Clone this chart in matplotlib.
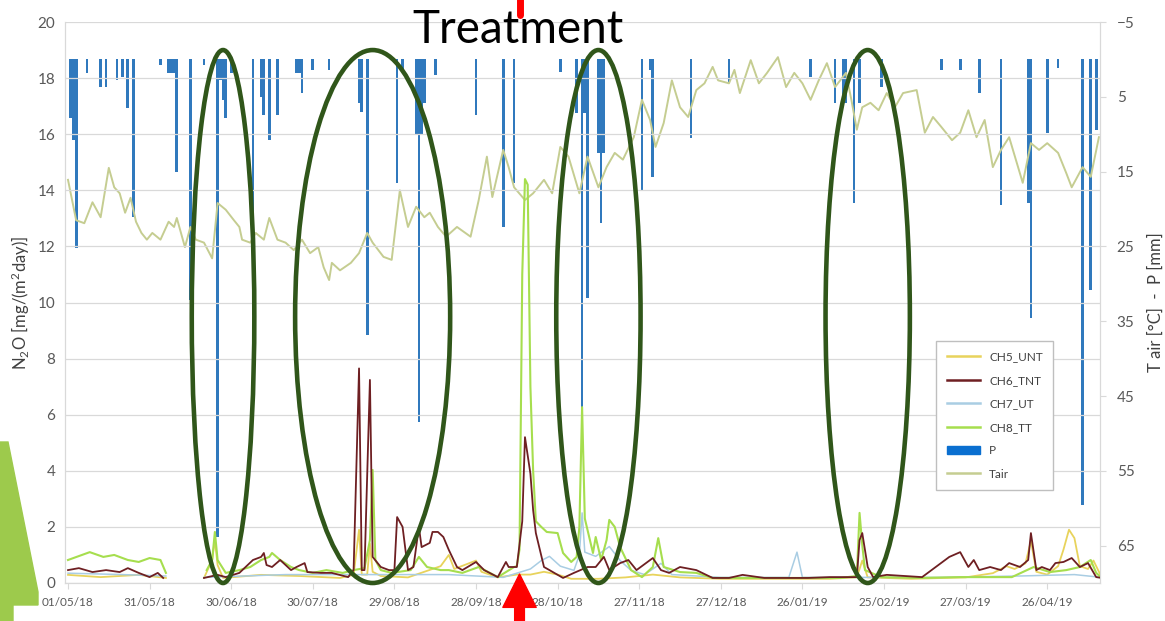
import numpy as np
import matplotlib
matplotlib.use("Agg")
import matplotlib.pyplot as plt
import matplotlib.dates as mdates
import matplotlib.transforms as mtransforms
from matplotlib.patches import Ellipse, Polygon, Patch
from matplotlib.lines import Line2D

plt.rcParams["font.family"] = ["Lato", "DejaVu Sans"]
plt.rcParams["mathtext.fontset"] = "custom"
plt.rcParams["mathtext.rm"] = "Lato"
plt.rcParams["mathtext.it"] = "Lato:italic"

START = np.datetime64("2018-05-01")
TREATMENT_DAY = 166

# air temperature [°C], day offset from 01/05/18
tair_day = [0, 3, 6, 9, 12, 15, 17, 19, 21, 23, 25, 27, 29, 31, 34, 37, 39, 40, 43, 45,
            47, 50, 53, 55, 58, 61, 63, 64, 67, 69, 72, 74, 77, 80, 83, 86, 89, 92, 94, 96,
            97, 100, 104, 107, 110, 112, 116, 119, 122, 125, 128, 131, 133, 136, 139, 143,
            148, 151, 154, 156, 160, 162, 164, 168, 171, 175, 178, 181, 184, 188, 191, 195,
            198, 201, 204, 208, 211, 214, 216, 219, 222, 225, 228, 231, 234, 237, 239, 243,
            245, 247, 251, 254, 257, 261, 264, 267, 270, 273, 276, 279, 282, 286, 288, 290,
            292, 295, 298, 301, 304, 307, 312, 315, 318, 321, 325, 328, 331, 334, 337, 340,
            343, 346, 351, 354, 357, 360, 364, 367, 369, 373, 376, 379]
tair = [16.1, 21.5, 21.9, 19.1, 21.1, 14.5, 17.1, 17.9, 20.5, 18.5, 21.7, 23.2, 24.1, 23.2,
        24.1, 21.7, 22.4, 21.2, 25.1, 22.4, 24.1, 24.5, 26.6, 19.2, 20.1, 21.5, 22.4, 24.1,
        24.5, 23.2, 24.1, 21.2, 24.1, 24.5, 25.5, 24.1, 25.9, 25.1, 27.8, 29.5, 27.2, 28.2,
        27.2, 25.9, 23.2, 24.5, 26.4, 26.8, 17.5, 22.4, 19.7, 21.1, 20.5, 22.4, 23.7, 22.4,
        23.7, 18.8, 13.0, 18.4, 12.1, 14.4, 17.1, 18.8, 17.9, 16.1, 17.9, 11.7, 13.0, 17.9,
        13.0, 17.1, 14.4, 12.5, 13.4, 10.4, 5.4, 8.1, 11.7, 8.5, 2.8, 6.4, 7.7, 4.1, 3.2,
        1.0, 2.8, 3.2, 1.4, 4.5, 0.1, 3.2, 1.8, -0.3, 3.7, 1.8, 3.2, 5.4, 2.8, 0.5, 3.7,
        1.8, 5.4, 9.4, 6.4, 5.8, 6.8, 4.5, 6.4, 4.5, 4.1, 9.8, 7.7, 9.0, 10.8, 9.8, 6.8,
        10.4, 8.1, 14.4, 12.1, 10.4, 16.5, 11.2, 12.1, 11.2, 12.5, 15.2, 17.1, 14.4, 15.7,
        10.4]

# precipitation [mm]
p_day = [1, 2, 3, 7, 12, 14, 18, 20, 22, 24, 34, 37, 38, 39, 40, 45, 50, 55, 56, 57,
         58, 60, 68, 71, 72, 74, 77, 84, 85, 86, 90, 96, 107, 108, 110, 121, 123, 128,
         129, 130, 131, 135, 150, 160, 164, 181, 187, 189, 190, 191, 195, 196, 197, 211,
         214, 215, 229, 243, 273, 282, 285, 286, 289, 291, 299, 321, 328, 335, 343, 353,
         354, 360, 364, 373, 376, 378]
p_mm = [7.8, 10.8, 25.2, 1.8, 3.7, 3.7, 2.8, 2.4, 6.5, 21.1, 0.7, 1.8, 1.8, 1.8, 15.1,
        32.2, 0.7, 63.8, 2.8, 5.4, 7.8, 1.8, 34.2, 5.0, 7.4, 10.8, 7.4, 1.8, 1.8, 4.5,
        1.4, 1.4, 5.8, 7.0, 36.8, 16.5, 1.4, 10.1, 48.5, 10.1, 5.8, 2.1, 7.4, 22.4, 16.5,
        1.7, 7.2, 46.6, 7.2, 31.9, 12.5, 21.9, 12.5, 17.5, 1.4, 15.7, 10.5, 3.2, 2.4, 5.8,
        5.8, 5.8, 19.2, 5.8, 3.7, 1.4, 1.4, 4.5, 19.5, 19.2, 34.6, 9.8, 1.1, 59.6, 30.8,
        9.4]

# N2O fluxes [mg/(m2 day)], nan = no measurement
ch5_day = [0, 12, 26, 36, 43, 50, 53, 54, 55, 57, 71, 85, 100, 105, 107, 108, 110, 111,
           112, 115, 125, 137, 140, 142, 150, 152, 158, 165, 170, 175, 180, 185, 195, 205,
           215, 225, 240, 260, 280, 290, 292, 294, 310, 330, 340, 345, 348, 352, 354, 356,
           360, 364, 366, 368, 370, 372, 375, 377, 380]
ch5 = [0.29, 0.21, 0.29, 0.18, np.nan, 0.18, 0.82, 1.53, 0.64, 0.18, 0.29, 0.25, 0.18,
       0.29, 1.9, 0.3, 0.3, 1.4, 0.4, 0.25, 0.2, 0.6, 1.0, 0.5, 0.8, 0.4, 0.2, 0.3, 0.3,
       0.4, 0.3, 0.15, 0.15, 0.2, 0.3, 0.2, 0.15, 0.15, 0.15, 0.2, 0.8, 0.2, 0.15, 0.2,
       0.35, 0.6, 0.5, 0.7, 1.5, 0.4, 0.3, 0.6, 1.2, 1.9, 1.6, 0.6, 0.5, 0.8, 0.2]

ch6_day = [0, 4, 9, 14, 19, 22, 26, 30, 33, 35, 43, 50, 55, 58, 63, 68, 71, 72, 73, 75,
           78, 82, 84, 87, 88, 93, 97, 103, 105, 107, 108, 109, 111, 112, 115, 118, 120,
           121, 123, 125, 127, 129, 130, 133, 134, 136, 138, 140, 143, 145, 150, 153, 158,
           161, 162, 165, 167, 168, 170, 171, 172, 175, 177, 182, 186, 191, 194, 197, 199,
           203, 206, 209, 215, 218, 221, 225, 231, 237, 243, 248, 256, 263, 272, 280, 290,
           291, 292, 294, 296, 301, 314, 319, 324, 328, 331, 333, 335, 339, 343, 346, 350,
           353, 354, 356, 358, 361, 363, 366, 369, 372, 375, 378, 380]
ch6 = [0.46, 0.53, 0.39, 0.46, 0.39, 0.53, 0.36, 0.21, 0.36, 0.18, np.nan, 0.18, 0.29,
       0.21, 0.36, 0.82, 0.93, 1.07, 0.64, 0.57, 0.82, 0.46, 0.57, 0.71, 0.39, 0.36, 0.36,
       0.21, 0.46, 7.65, 0.46, 0.46, 7.24, 0.93, 0.57, 0.46, 0.46, 2.35, 2.0, 0.46, 0.57,
       2.0, 1.28, 1.43, 1.82, 1.82, 1.64, 1.18, 0.57, 0.46, 0.75, 0.46, 0.21, 0.75, 0.57,
       0.57, 2.2, 5.2, 3.9, 2.6, 1.78, 0.57, 0.46, 0.18, 0.36, 0.57, 0.57, 0.93, 0.46,
       0.71, 0.82, 0.46, 0.89, 0.46, 0.36, 0.57, 0.46, 0.18, 0.18, 0.29, 0.18, 0.18, 0.18,
       0.21, 0.21, 1.53, 1.78, 0.57, 0.21, 0.29, 0.21, 0.57, 0.93, 1.1, 0.57, 0.82, 0.46,
       0.57, 0.46, 0.71, 0.57, 0.82, 1.78, 0.46, 0.57, 0.46, 0.71, 0.75, 0.89, 0.57, 0.71,
       0.21, 0.18]

ch7_day = [0, 20, 36, 43, 50, 80, 110, 140, 160, 170, 174, 177, 181, 186, 188, 189, 190,
           194, 199, 203, 207, 212, 218, 222, 240, 265, 268, 270, 290, 320, 350, 370, 380]
ch7 = [0.35, 0.3, 0.25, np.nan, 0.2, 0.3, 0.3, 0.3, 0.2, 0.5, 0.8, 0.95, 0.6, 0.45, 1.0,
       2.5, 1.1, 0.95, 1.3, 0.8, 0.45, 0.3, 0.7, 0.3, 0.2, 0.2, 1.1, 0.2, 0.2, 0.2, 0.25,
       0.3, 0.2]

ch8_day = [0, 8, 13, 17, 22, 26, 30, 34, 36, 43, 51, 53, 54, 55, 58, 63, 67, 71, 74, 75,
           78, 82, 85, 90, 95, 101, 105, 109, 111, 112, 113, 115, 119, 126, 129, 132, 137,
           140, 145, 151, 158, 164, 165, 166, 167, 168, 169, 170, 171, 172, 174, 176, 180,
           182, 185, 187, 188, 189, 190, 193, 194, 196, 198, 199, 201, 203, 207, 211, 215,
           217, 219, 225, 231, 237, 254, 269, 284, 290, 291, 292, 293, 299, 313, 328, 343,
           347, 355, 361, 367, 372, 376, 378, 380]
ch8 = [0.82, 1.1, 0.93, 1.0, 0.82, 0.75, 0.89, 0.82, 0.36, np.nan, 0.46, 0.82, 1.82,
       0.82, 0.36, 0.46, 0.57, 0.82, 0.93, 1.07, 0.82, 0.57, 0.46, 0.36, 0.46, 0.36, 0.46,
       0.53, 1.53, 4.03, 0.82, 0.46, 0.36, 0.46, 0.93, 0.57, 0.46, 0.46, 0.36, 0.57, 0.21,
       0.57, 0.6, 1.2, 11.0, 14.4, 14.2, 7.0, 4.0, 2.2, 2.0, 1.82, 1.78, 1.07, 0.75, 0.93,
       2.0, 6.27, 2.3, 1.07, 1.64, 0.82, 1.53, 2.25, 2.0, 1.28, 0.46, 0.21, 0.57, 1.6,
       0.57, 0.39, 0.36, 0.18, 0.18, 0.18, 0.18, 0.25, 2.5, 1.35, 0.46, 0.21, 0.18, 0.21,
       0.21, 0.21, 0.57, 0.39, 0.46, 0.57, 0.82, 0.36, 0.18]

# highlighted periods: centre day, width in days
circle_day = [57, 112, 195, 294]
circle_width = [23, 57, 31, 31]

C_CH5 = "#e8d35c"
C_CH6 = "#6e1f22"
C_CH7 = "#a9cde3"
C_CH8 = "#a6de4e"
C_P = "#3079bd"
C_TAIR = "#c5cd91"
C_TXT = "#595959"
C_GRID = "#d9d9d9"


def to_dates(days):
    return START + np.array(days, dtype="timedelta64[D]")


fig = plt.figure(figsize=(11.65, 6.21), dpi=100)
ax = fig.add_axes([65 / 1165, 38 / 621, 1035 / 1165, 561 / 621])
ax2 = ax.twinx()

# right axis: precipitation bars and air temperature (inverted)
ax2.bar(to_dates(p_day), p_mm, width=1.0, color=C_P, zorder=2)
ax2.plot(to_dates(tair_day), tair, color=C_TAIR, lw=1.4, zorder=3)
ax2.set_ylim(70, -5)
ax2.set_yticks(np.arange(-5, 66, 10))

# left axis: N2O
ax.plot(to_dates(ch5_day), ch5, color=C_CH5, lw=1.3, zorder=3)
ax.plot(to_dates(ch7_day), ch7, color=C_CH7, lw=1.1, zorder=3)
ax.plot(to_dates(ch8_day), ch8, color=C_CH8, lw=1.5, zorder=3)
ax.plot(to_dates(ch6_day), ch6, color=C_CH6, lw=1.3, zorder=4)
ax.set_ylim(0, 20)
ax.set_yticks(np.arange(0, 21, 2))
ax.set_zorder(ax2.get_zorder() + 1)
ax.patch.set_visible(False)
ax.yaxis.grid(True, color=C_GRID, lw=0.9, zorder=0)

x0 = mdates.date2num(START)
ax.set_xlim(x0 - 1.1, x0 + 379.4)
ax.set_xticks([x0 + 30 * k for k in range(13)])
ax.xaxis.set_major_formatter(mdates.DateFormatter("%d/%m/%y"))

for a in (ax, ax2):
    for s in a.spines.values():
        s.set_color(C_GRID)
    a.spines["top"].set_visible(False)
ax.tick_params(axis="x", labelsize=8.5, colors=C_TXT, length=4, color=C_GRID, pad=6)
ax.tick_params(axis="y", labelsize=11, colors=C_TXT, length=0, pad=7)
ax2.tick_params(axis="y", labelsize=11, colors=C_TXT, length=4, color=C_GRID, pad=8)

ax.set_ylabel(r"N$_2$O [mg/(m$^2$day)]", fontsize=12, color="#404040")
ax.yaxis.set_label_coords(-0.032, 0.5)
ax2.set_ylabel("T air [°C]  -  P [mm]", fontsize=12, color="#404040")
ax2.yaxis.set_label_coords(1.046, 0.5)

# highlight ellipses
for d, w in zip(circle_day, circle_width):
    ax.add_patch(Ellipse((x0 + d, 9.5), w, 19.0, fill=False, ec="#30561a", lw=3.3,
                         zorder=6, clip_on=False))

handles = [Line2D([], [], color=C_CH5, lw=1.8), Line2D([], [], color=C_CH6, lw=1.8),
           Line2D([], [], color=C_CH7, lw=1.8), Line2D([], [], color=C_CH8, lw=1.8),
           Patch(color="#0a6fd0"), Line2D([], [], color=C_TAIR, lw=1.8)]
labels = ["CH5_UNT", "CH6_TNT", "CH7_UT", "CH8_TT", "P", "Tair"]
leg = ax.legend(handles, labels, loc="upper left", bbox_to_anchor=(930 / 1165, 1 - 335 / 621),
                bbox_transform=fig.transFigure, fontsize=8.5, labelspacing=1.05,
                handlelength=2.8, borderpad=0.9, fancybox=False, edgecolor="#bfbfbf",
                framealpha=1)
leg.set_zorder(10)
for t in leg.get_texts():
    t.set_color("#404040")

# treatment marker
xt = x0 + TREATMENT_DAY
blend = mtransforms.blended_transform_factory(ax.transData, ax.transAxes)
ax.plot([xt, xt], [1.012, 1.05], transform=blend, color="red", lw=5,
        solid_capstyle="round", clip_on=False, zorder=7)
ax.annotate("", xy=(xt, 0.016), xycoords=blend, xytext=(xt, -0.08), textcoords=blend,
            arrowprops=dict(facecolor="red", edgecolor="red", width=7, headwidth=24,
                            headlength=24), zorder=7)
fig.text(518 / 1165, 1 - 30 / 621, "Treatment", fontsize=33, ha="center", va="center",
         color="black")

# slide decoration at the lower left
deco = fig.add_axes([0, 0, 1, 1], zorder=-1)
deco.set_xlim(0, 1165)
deco.set_ylim(621, 0)
deco.axis("off")
deco.add_patch(Polygon([(0, 442), (8, 442), (38, 592), (38, 605), (13, 605), (13, 621),
                        (0, 621)], closed=True, color="#9dca4c"))

fig.savefig("out.png", dpi=100)
